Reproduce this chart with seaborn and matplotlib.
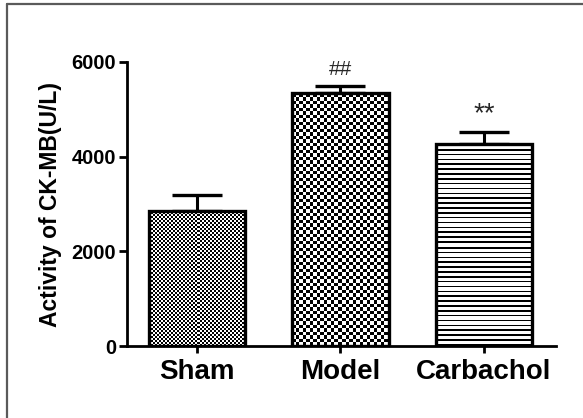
import numpy as np
import matplotlib
matplotlib.use("Agg")
import matplotlib.pyplot as plt
from matplotlib.lines import Line2D
import seaborn as sns

# values
groups = ["Sham", "Model", "Carbachol"]
means = [2850, 5340, 4270]
sem = [340, 155, 250]
marks = ["", "##", "**"]
y_ticks = [0, 2000, 4000, 6000]

sns.set_theme(style="ticks")
plt.rcParams["font.family"] = ["Liberation Sans", "DejaVu Sans"]

fig = plt.figure(figsize=(5.83, 4.18), dpi=100)
ax = fig.add_axes([0.217, 0.1722, 0.7363, 0.6795])

sns.barplot(x=groups, y=means, color="black", fill=False, linewidth=2.4,
            width=0.67, errorbar=None, ax=ax, zorder=2)

ax.errorbar(x=range(len(groups)), y=means, yerr=[np.zeros(len(sem)), sem],
            fmt="none", ecolor="black", elinewidth=2.2, capsize=18,
            capthick=2.4, zorder=1)

ax.set_xlim(-0.49, 2.5)
ax.set_ylim(0, 6000)
ax.set_yticks(y_ticks)


def pattern(kind, nx, ny):
    # build a pixel-sized fill pattern for a bar
    yy, xx = np.mgrid[0:ny, 0:nx]
    if kind == "fine":
        return ((xx // 2 + yy // 2) % 2).astype(float)
    if kind == "coarse":
        return ((np.floor(xx / 3.5) + np.floor(yy / 3.5)) % 2).astype(float)
    return ((yy % 4.85) < 1.6).astype(float)


fig.canvas.draw()
for p, kind in zip(ax.patches, ["fine", "coarse", "stripes"]):
    x0, y0, w, h = p.get_x(), p.get_y(), p.get_width(), p.get_height()
    (px0, py0), (px1, py1) = ax.transData.transform([(x0, y0), (x0 + w, y0 + h)])
    arr = pattern(kind, int(round(px1 - px0)), int(round(py1 - py0)))
    im = ax.imshow(arr, extent=(x0, x0 + w, y0, y0 + h), origin="lower",
                   cmap="gray_r", vmin=0, vmax=1, interpolation="nearest",
                   aspect="auto", zorder=1.5)
    im.set_clip_path(p)

ax.set_xlim(-0.49, 2.5)
ax.set_ylim(0, 6000)

for i, lab in enumerate(marks):
    if lab:
        ax.annotate(lab, (i, means[i] + sem[i]), xytext=(0, 8),
                    textcoords="offset points", ha="center", va="baseline",
                    fontsize=15 if lab == "##" else 20)

sns.despine(ax=ax)
for s in ["left", "bottom"]:
    ax.spines[s].set_linewidth(2)
    ax.spines[s].set_color("black")

ax.tick_params(axis="y", length=6, width=2, pad=1.5, labelsize=14.5, colors="black")
ax.tick_params(axis="x", length=5, width=2, pad=4, labelsize=20, colors="black")
for t in ax.get_xticklabels() + ax.get_yticklabels():
    t.set_fontweight("bold")

ax.set_xlabel("")
ax.set_ylabel("Activity of CK-MB(U/L)", fontsize=16.5, fontweight="bold",
              labelpad=7, color="black")

# grey frame round the figure (left and top only)
fig.add_artist(Line2D([7 / 583, 7 / 583], [0, 1 - 4 / 418], color="#5a5a5a",
                      linewidth=1.6, transform=fig.transFigure))
fig.add_artist(Line2D([7 / 583, 1], [1 - 4 / 418, 1 - 4 / 418], color="#5a5a5a",
                      linewidth=1.6, transform=fig.transFigure))

fig.savefig("out.png", dpi=100)
